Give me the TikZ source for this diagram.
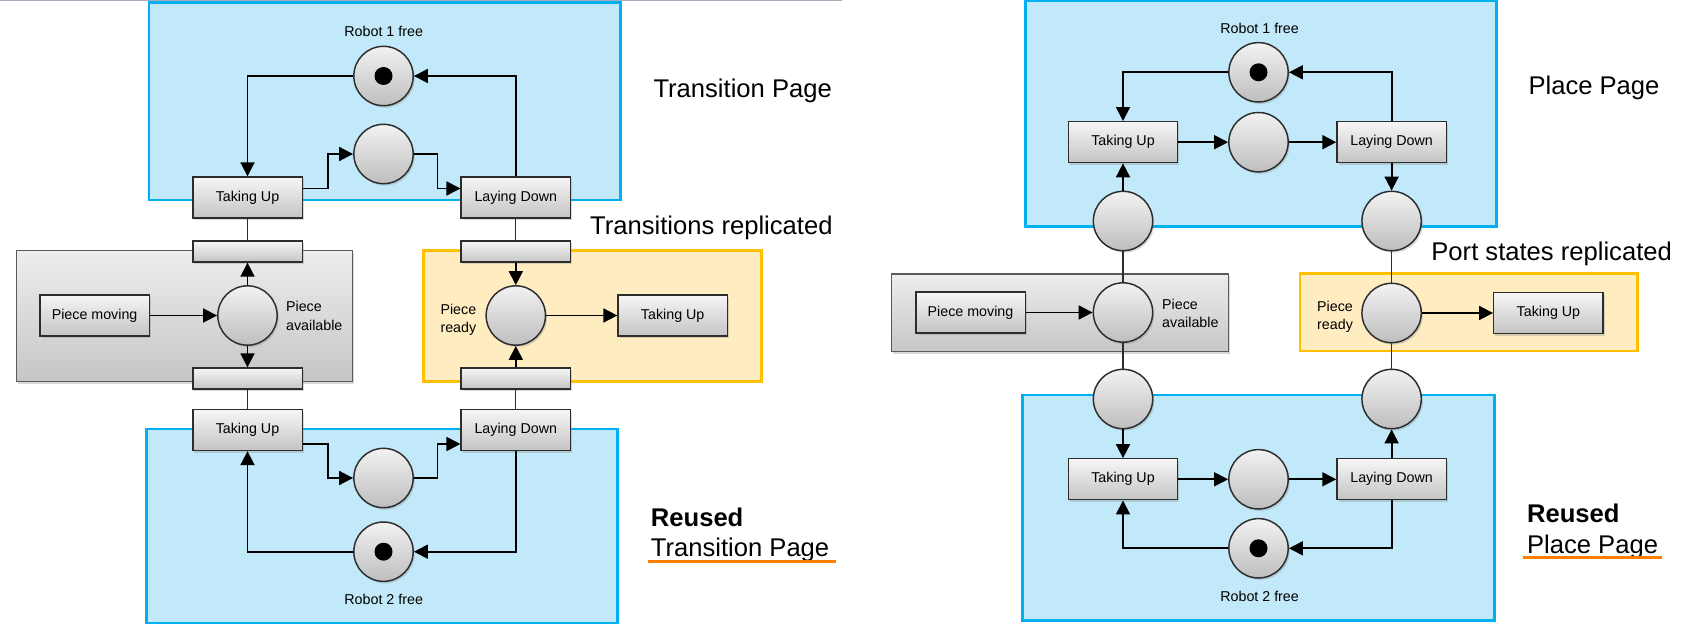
\documentclass[tikz,border=0pt]{standalone}
\usepackage{fontspec}
\setmainfont{Liberation Sans}
\usetikzlibrary{arrows.meta,calc,shadows}

\definecolor{pagefill}{RGB}{193,233,249}
\definecolor{pageline}{RGB}{0,176,240}
\definecolor{replfill}{RGB}{255,237,193}
\definecolor{replline}{RGB}{255,192,0}
\definecolor{moduletop}{RGB}{237,237,237}
\definecolor{modulebot}{RGB}{198,198,198}
\definecolor{moduleline}{RGB}{90,90,90}
\definecolor{transtop}{RGB}{246,246,246}
\definecolor{transbot}{RGB}{196,196,196}
\definecolor{placetop}{RGB}{242,242,242}
\definecolor{placebot}{RGB}{190,190,190}
\definecolor{netline}{RGB}{45,45,45}
\definecolor{reuseline}{RGB}{255,128,0}
\definecolor{slideline}{RGB}{165,173,189}

\tikzset{every picture/.style={line width=0.75pt}}
\tikzset{
  netshadow/.style={drop shadow={opacity=0.3, shadow xshift=1.2pt, shadow yshift=-1.5pt}},
  place/.style={circle, draw=netline, line width=1.1pt, minimum size=44.5pt, inner sep=0pt, top color=placetop, bottom color=placebot, netshadow},
  token/.style={circle, fill=black, minimum size=13.5pt, inner sep=0pt},
  trans/.style={rectangle, draw=netline, line width=1pt, minimum width=82pt, minimum height=30.75pt, inner sep=0pt, top color=transtop, bottom color=transbot, font=\fontsize{10.7}{12.8}\selectfont, netshadow},
  bar/.style={trans, minimum height=15.75pt},
  arc/.style={draw=black, line width=1.35pt, -{Triangle[length=10.5pt, width=10.5pt]}},
  link/.style={draw=netline, line width=0.8pt},
  page/.style={draw=pageline, fill=pagefill, line width=2.2pt},
  repl/.style={draw=replline, fill=replfill, line width=2.2pt},
  module/.style={draw=moduleline, line width=1pt, top color=moduletop, bottom color=modulebot, netshadow},
  note/.style={font=\fontsize{10.7}{13.6}\selectfont, inner sep=0pt, align=left},
  title/.style={font=\fontsize{19.2}{23}\selectfont, inner sep=0pt, anchor=base west},
  reuse/.style={draw=reuseline, line width=2.2pt}
}

\begin{document}
\begin{tikzpicture}[x=0.75pt,y=0.75pt,yscale=-1,xscale=1]
\useasboundingbox (0,0) rectangle (1684,627);

%Shape: slide edge
\draw [slideline, line width=1.2pt] (0,0.6) -- (842,0.6);

%%% Transition page (left)
%Shape: pages and modules
\draw [page] (149,2.7) rectangle (620.6,200);
\draw [page] (146.9,429) rectangle (617.9,623);
\draw [module] (16.3,250.7) rectangle (352.3,381.7);
\draw [repl] (423.8,250.7) rectangle (761.5,381.7);

% Places and transitions
\node [place] (r1L) at (383.5,76) {};
\node [token] (k1L) at (r1L) {};
\node [note] (r1Lname) at (383.7,31) {Robot 1 free};
\node [place] (m1L) at (383.5,154) {};
\node [trans] (tu1L) at (247.5,197.5) {Taking Up};
\node [trans] (ld1L) at (515.8,197.5) {Laying Down};
\node [bar] (b1L) at (247.5,251.5) {};
\node [bar] (b2L) at (515.8,251.5) {};
\node [trans] (pmL) at (94.6,315.5) {Piece moving};
\node [place] (paL) at (247.5,315.5) {};
\node [note, anchor=west] (paLname) at (285.6,315.9) {Piece\\available};
\node [place] (prL) at (515.8,315.5) {};
\node [note, anchor=west] (prLname) at (440,319.4) {Piece\\ready};
\node [trans] (tu3L) at (672.7,315.5) {Taking Up};
\node [bar] (b3L) at (247.5,378.5) {};
\node [bar] (b4L) at (515.8,378.5) {};
\node [trans] (tu2L) at (247.5,430) {Taking Up};
\node [trans] (ld2L) at (515.8,430) {Laying Down};
\node [place] (m2L) at (383.5,478) {};
\node [place] (r2L) at (383.5,551.7) {};
\node [token] (k2L) at (r2L) {};
\node [note] (r2Lname) at (383.7,599) {Robot 2 free};

% Arcs
\draw [arc] (r1L.west) -| (tu1L.north);
\draw [arc] (ld1L.north) |- (r1L.east);
\draw [arc] ($(tu1L.east)+(0,-9)$) -| ($(m1L.west)+(-25,0)$) -- (m1L.west);
\draw [arc] (m1L.east) -| ($(ld1L.west)+(-23,-9)$) -- ($(ld1L.west)+(0,-9)$);
\draw [link] (tu1L.south) -- (b1L.north);
\draw [link] (ld1L.south) -- (b2L.north);
\draw [arc] (paL.north) -- (b1L.south);
\draw [arc] (paL.south) -- (b3L.north);
\draw [arc] (pmL.east) -- (paL.west);
\draw [arc] (b2L.south) -- (prL.north);
\draw [arc] (b4L.north) -- (prL.south);
\draw [arc] (prL.east) -- (tu3L.west);
\draw [link] (b3L.south) -- (tu2L.north);
\draw [link] (b4L.south) -- (ld2L.north);
\draw [arc] ($(tu2L.east)+(0,14)$) -| ($(m2L.west)+(-25,0)$) -- (m2L.west);
\draw [arc] (m2L.east) -| ($(ld2L.west)+(-23,14)$) -- ($(ld2L.west)+(0,14)$);
\draw [arc] (ld2L.south) |- (r2L.east);
\draw [arc] (r2L.west) -| (tu2L.south);

% Text Node
\node [title] (tpL) at (653,97.7) {Transition Page};
% Text Node
\node [title] (trL) at (589.7,235) {Transitions replicated};
% Text Node
\node [title] (ruL) at (650.4,526.7) {\bfseries Reused};
% Text Node
\node [title] (rtL) at (650.4,556.7) {Transition Page};
\draw [reuse] (647.7,561.7) -- (836.3,561.7);

%%% Place page (right)
%Shape: pages and modules
\draw [page] (1025.5,1) rectangle (1496.3,226.7);
\draw [page] (1022.9,395) rectangle (1494.1,620.7);
\draw [module] (891.5,274) rectangle (1228.7,351.5);
\draw [repl] (1300,273.5) rectangle (1637.2,351);

% Places and transitions
\node [place] (r1R) at (1258.5,72.3) {};
\node [token] (k1R) at (r1R) {};
\node [note] (r1Rname) at (1259.6,28.3) {Robot 1 free};
\node [trans] (tu1R) at (1123,142.2) {Taking Up};
\node [place] (m1R) at (1258.5,142.2) {};
\node [trans] (ld1R) at (1391.6,142.2) {Laying Down};
\node [place] (pt1R) at (1123,221) {};
\node [place] (pt2R) at (1391.6,221) {};
\node [trans] (pmR) at (970.5,312.5) {Piece moving};
\node [place] (paR) at (1123,312.5) {};
\node [note, anchor=west] (paRname) at (1161.7,313.2) {Piece\\available};
\node [place] (prR) at (1391.6,313) {};
\node [note, anchor=west] (prRname) at (1316.7,316.9) {Piece\\ready};
\node [trans] (tu3R) at (1548.4,313) {Taking Up};
\node [place] (pt3R) at (1123,399) {};
\node [place] (pt4R) at (1391.6,399) {};
\node [trans] (tu2R) at (1123,479.3) {Taking Up};
\node [place] (m2R) at (1258.5,479.3) {};
\node [trans] (ld2R) at (1391.6,479.3) {Laying Down};
\node [place] (r2R) at (1258.5,548.3) {};
\node [token] (k2R) at (r2R) {};
\node [note] (r2Rname) at (1259.6,596) {Robot 2 free};

% Arcs
\draw [arc] (r1R.west) -| (tu1R.north);
\draw [arc] (ld1R.north) |- (r1R.east);
\draw [arc] (tu1R.east) -- (m1R.west);
\draw [arc] (m1R.east) -- (ld1R.west);
\draw [arc] (pt1R.north) -- (tu1R.south);
\draw [arc] (ld1R.south) -- (pt2R.north);
\draw [link] (pt1R.south) -- (paR.north);
\draw [link] (pt2R.south) -- (prR.north);
\draw [arc] (pmR.east) -- (paR.west);
\draw [arc] (prR.east) -- (tu3R.west);
\draw [link] (paR.south) -- (pt3R.north);
\draw [link] (prR.south) -- (pt4R.north);
\draw [arc] (pt3R.south) -- (tu2R.north);
\draw [arc] (ld2R.north) -- (pt4R.south);
\draw [arc] (tu2R.east) -- (m2R.west);
\draw [arc] (m2R.east) -- (ld2R.west);
\draw [arc] (ld2R.south) |- (r2R.east);
\draw [arc] (r2R.west) -| (tu2R.south);

% Text Node
\node [title] (ppR) at (1528,95) {Place Page};
% Text Node
\node [title] (psR) at (1430.9,261) {Port states replicated};
% Text Node
\node [title] (ruR) at (1526.6,522.3) {\bfseries Reused};
% Text Node
\node [title] (rpR) at (1526.6,553.3) {Place Page};
\draw [reuse] (1522.9,557.7) -- (1662.2,557.7);

\end{tikzpicture}
\end{document}
